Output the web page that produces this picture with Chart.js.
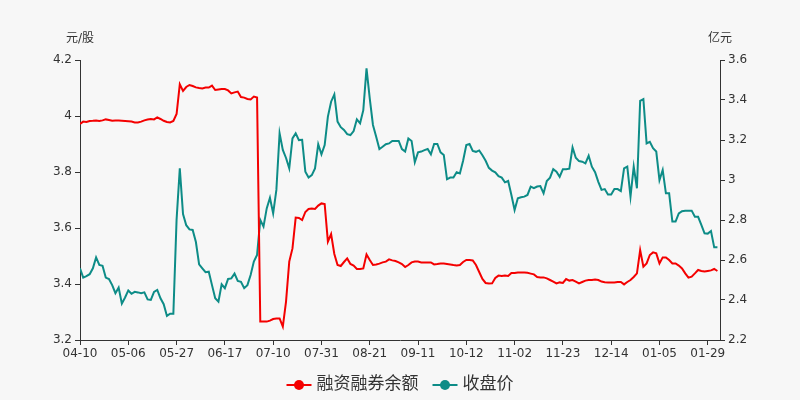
<!DOCTYPE html>
<html>
<head>
<meta charset="utf-8">
<script src="https://cdn.jsdelivr.net/npm/chart.js@4.4.1/dist/chart.umd.min.js"></script>
<style>
  html, body { margin: 0; padding: 0; background: #f7f7f7; }
  #wrap { width: 800px; height: 400px; position: relative; }
</style>
</head>
<body>
<div id="wrap"><canvas id="margin-chart"></canvas></div>
<script>
// x axis: trading day index, labels every 15 days
const tickIdx = [0, 15, 30, 45, 60, 75, 90, 105, 120, 135, 150, 165, 180, 195];
const tickLabels = ['04-10', '05-06', '05-27', '06-17', '07-10', '07-31', '08-21',
  '09-11', '10-12', '11-02', '11-23', '12-14', '01-05', '01-29'];

// 融资融券余额 (亿元, right axis)
const balanceValues = [
  3.28, 3.292, 3.29, 3.295, 3.296, 3.298, 3.295, 3.298, 3.303, 3.30,
  3.296, 3.297, 3.297, 3.296, 3.295, 3.294, 3.292, 3.288, 3.288, 3.292,
  3.298, 3.302, 3.305, 3.303, 3.313, 3.305, 3.296, 3.29, 3.288, 3.295,
  3.33, 3.478, 3.445, 3.465, 3.475, 3.47, 3.463, 3.46, 3.458, 3.462,
  3.462, 3.472, 3.45, 3.453, 3.455, 3.455, 3.448, 3.433, 3.438, 3.442,
  3.415, 3.412, 3.405, 3.403, 3.417, 3.412, 2.292, 2.292, 2.292, 2.297,
  2.305, 2.308, 2.308, 2.267, 2.392, 2.592, 2.658, 2.812, 2.81, 2.80,
  2.84, 2.855, 2.858, 2.855, 2.872, 2.883, 2.88, 2.692, 2.73, 2.63,
  2.575, 2.57, 2.59, 2.608, 2.58, 2.572, 2.555, 2.555, 2.558, 2.628,
  2.60, 2.575, 2.578, 2.582, 2.588, 2.592, 2.603, 2.598, 2.595, 2.588,
  2.58, 2.565, 2.575, 2.588, 2.592, 2.592, 2.588, 2.588, 2.588, 2.588,
  2.578, 2.58, 2.583, 2.582, 2.58, 2.578, 2.575, 2.573, 2.575, 2.59,
  2.60, 2.60, 2.598, 2.575, 2.54, 2.505, 2.485, 2.482, 2.483, 2.51,
  2.522, 2.52, 2.522, 2.52, 2.535, 2.535, 2.538, 2.538, 2.537, 2.536,
  2.532, 2.528, 2.515, 2.513, 2.513, 2.508, 2.50, 2.492, 2.483, 2.488,
  2.485, 2.505, 2.497, 2.50, 2.492, 2.483, 2.49, 2.497, 2.50, 2.50,
  2.503, 2.50, 2.492, 2.489, 2.488, 2.488, 2.488, 2.49, 2.49, 2.478,
  2.49, 2.50, 2.515, 2.533, 2.65, 2.567, 2.583, 2.625, 2.638, 2.633,
  2.583, 2.613, 2.613, 2.60, 2.583, 2.583, 2.572, 2.558, 2.533, 2.512,
  2.517, 2.533, 2.55, 2.545, 2.542, 2.545, 2.548, 2.555, 2.545
];

// 收盘价 (元/股, left axis)
const priceValues = [
  3.456, 3.423, 3.428, 3.435, 3.456, 3.495, 3.468, 3.465, 3.423, 3.418,
  3.396, 3.367, 3.387, 3.33, 3.352, 3.377, 3.365, 3.372, 3.37, 3.367,
  3.37, 3.345, 3.343, 3.372, 3.379, 3.349, 3.328, 3.286, 3.294, 3.294,
  3.63, 3.813, 3.65, 3.61, 3.595, 3.593, 3.55, 3.47, 3.456, 3.442,
  3.444, 3.396, 3.349, 3.337, 3.399, 3.385, 3.418, 3.42, 3.437, 3.411,
  3.408, 3.385, 3.396, 3.432, 3.48, 3.504, 3.629, 3.605, 3.67, 3.708,
  3.652, 3.736, 3.938, 3.879, 3.85, 3.813, 3.92, 3.938, 3.914, 3.915,
  3.801, 3.78, 3.789, 3.813, 3.899, 3.863, 3.896, 3.998, 4.051, 4.077,
  3.98, 3.96, 3.95, 3.935, 3.932, 3.946, 3.988, 3.974, 4.021, 4.17,
  4.063, 3.968, 3.926, 3.882, 3.89, 3.899, 3.902, 3.911, 3.911, 3.911,
  3.882, 3.873, 3.92, 3.911, 3.835, 3.87, 3.873, 3.878, 3.882, 3.863,
  3.90, 3.90, 3.87, 3.861, 3.774, 3.78, 3.78, 3.799, 3.795, 3.84,
  3.896, 3.90, 3.875, 3.872, 3.877, 3.86, 3.84, 3.815, 3.805, 3.799,
  3.785, 3.78, 3.763, 3.768, 3.718, 3.664, 3.706, 3.71, 3.712, 3.718,
  3.748, 3.742, 3.748, 3.75, 3.724, 3.768, 3.78, 3.81, 3.801, 3.783,
  3.81, 3.81, 3.812, 3.888, 3.851, 3.839, 3.837, 3.831, 3.858, 3.819,
  3.799, 3.765, 3.736, 3.739, 3.72, 3.72, 3.739, 3.739, 3.732, 3.813,
  3.819, 3.712, 3.819, 3.742, 4.054, 4.06, 3.902, 3.908, 3.885, 3.873,
  3.771, 3.807, 3.724, 3.724, 3.623, 3.623, 3.652, 3.66, 3.662, 3.662,
  3.662, 3.64, 3.64, 3.611, 3.581, 3.58, 3.589, 3.531, 3.531
];

const RED = '#f40000';
const TEAL = '#0d8c87';
const TEXT = '#333333';
const FONT = "'DejaVu Sans', 'Noto Sans CJK SC', sans-serif";

document.addEventListener('DOMContentLoaded', function() {
  Chart.defaults.color = TEXT;
  Chart.defaults.font.family = FONT;
  Chart.defaults.font.size = 12;

  // axis unit titles + bottom legend (line with dot)
  const decorPlugin = {
    id: 'decor',
    afterDraw: function(chart) {
      const ctx = chart.ctx;
      const area = chart.chartArea;
      ctx.save();
      ctx.fillStyle = TEXT;
      ctx.font = "12px " + FONT;
      ctx.textAlign = 'center';
      ctx.textBaseline = 'middle';
      ctx.fillText('元/股', area.left, 39);
      ctx.fillText('亿元', area.right, 39);

      const items = [
        { label: '融资融券余额', color: RED },
        { label: '收盘价', color: TEAL }
      ];
      ctx.font = "17px " + FONT;
      const markW = 25, gapText = 5, gapItem = 14;
      let total = 0;
      items.forEach(function(it, i) {
        it.w = ctx.measureText(it.label).width;
        total += markW + gapText + it.w + (i > 0 ? gapItem : 0);
      });
      let x = 400 - total / 2;
      const y = 385;
      ctx.textAlign = 'left';
      items.forEach(function(it, i) {
        if (i > 0) x += gapItem;
        ctx.strokeStyle = it.color;
        ctx.lineWidth = 2;
        ctx.beginPath();
        ctx.moveTo(x, y);
        ctx.lineTo(x + markW, y);
        ctx.stroke();
        ctx.fillStyle = it.color;
        ctx.beginPath();
        ctx.arc(x + markW / 2, y, 5, 0, Math.PI * 2);
        ctx.fill();
        x += markW + gapText;
        ctx.fillStyle = TEXT;
        ctx.fillText(it.label, x, y);
        x += it.w;
      });
      ctx.restore();
    }
  };

  const fmt = function(value) {
    return String(+value.toFixed(1));
  };

  new Chart(document.getElementById('margin-chart'), {
    type: 'line',
    data: {
      datasets: [
        {
          label: '融资融券余额',
          data: balanceValues.map(function(v, i) { return { x: i, y: v }; }),
          borderColor: RED,
          backgroundColor: RED,
          borderWidth: 2,
          pointRadius: 0,
          yAxisID: 'yRight'
        },
        {
          label: '收盘价',
          data: priceValues.map(function(v, i) { return { x: i, y: v }; }),
          borderColor: TEAL,
          backgroundColor: TEAL,
          borderWidth: 2,
          pointRadius: 0,
          yAxisID: 'yLeft'
        }
      ]
    },
    options: {
      responsive: true,
      maintainAspectRatio: false,
      animation: false,
      layout: { padding: { top: 60, left: 0, right: 0, bottom: 0 } },
      plugins: {
        legend: { display: false },
        tooltip: { enabled: false }
      },
      scales: {
        x: {
          type: 'linear',
          min: 0,
          max: 198.8,
          afterFit: function(scale) { scale.height = 60; },
          afterBuildTicks: function(scale) {
            scale.ticks = tickIdx.map(function(v) { return { value: v }; });
          },
          ticks: {
            autoSkip: false,
            maxRotation: 0,
            padding: 2,
            color: TEXT,
            callback: function(value) {
              return tickLabels[tickIdx.indexOf(value)];
            }
          },
          grid: {
            drawOnChartArea: false,
            drawTicks: true,
            tickLength: 5,
            color: TEXT
          },
          border: { display: true, color: TEXT }
        },
        yLeft: {
          position: 'left',
          min: 3.2,
          max: 4.2,
          afterFit: function(scale) { scale.width = 80; },
          ticks: { stepSize: 0.2, padding: 3, color: TEXT, callback: fmt },
          grid: {
            drawOnChartArea: false,
            drawTicks: true,
            tickLength: 5,
            color: TEXT
          },
          border: { display: true, color: TEXT }
        },
        yRight: {
          position: 'right',
          min: 2.2,
          max: 3.6,
          afterFit: function(scale) { scale.width = 80; },
          ticks: { stepSize: 0.2, padding: 3, color: TEXT, callback: fmt },
          grid: {
            drawOnChartArea: false,
            drawTicks: true,
            tickLength: 5,
            color: TEXT
          },
          border: { display: true, color: TEXT }
        }
      }
    },
    plugins: [decorPlugin]
  });
});
</script>
</body>
</html>
